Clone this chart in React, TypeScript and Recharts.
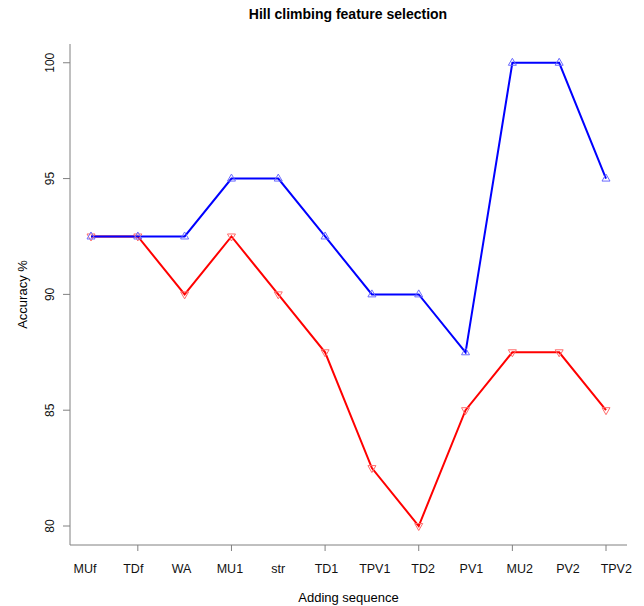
import React from 'react';
import { LineChart, Line, XAxis, YAxis } from 'recharts';

const categories = ['MUf', 'TDf', 'WA', 'MU1', 'str', 'TD1', 'TPV1', 'TD2', 'PV1', 'MU2', 'PV2', 'TPV2'];
const blueSeries = [92.5, 92.5, 92.5, 95, 95, 92.5, 90, 90, 87.5, 100, 100, 95];
const redSeries = [92.5, 92.5, 90, 92.5, 90, 87.5, 82.5, 80, 85, 87.5, 87.5, 85];
const yTicks = [80, 85, 90, 95, 100];

const data = categories.map((c, i) => ({ name: c, blue: blueSeries[i], red: redSeries[i] }));

const FONT = '"Liberation Sans", Arial, sans-serif';
const AXIS = '#808080';

const UpTri = (props: any) => {
  const { cx, cy } = props;
  if (cx == null || cy == null) return null;
  return <path d={`M${cx},${cy - 4.5} L${cx - 4},${cy + 2.5} L${cx + 4},${cy + 2.5} Z`} fill="none" stroke="#6a6aff" strokeWidth={1} />;
};
const DownTri = (props: any) => {
  const { cx, cy } = props;
  if (cx == null || cy == null) return null;
  return <path d={`M${cx},${cy + 4.5} L${cx - 4},${cy - 2.5} L${cx + 4},${cy - 2.5} Z`} fill="none" stroke="#ff6a6a" strokeWidth={1} />;
};

const XTick = (props: any) => {
  const { x, y, payload, index } = props;
  const first = 91;
  const step = 46.82;
  const lstep = 48.3;
  const lx = 85 + ((x - first) / step) * lstep;
  return (
    <g>
      {index % 2 === 1 && <line x1={x} x2={x} y1={y - 8} y2={y - 2} stroke={AXIS} strokeWidth={1} />}
      <text x={lx} y={y + 16} textAnchor="middle" dominantBaseline="central" fontSize={12.5} fontFamily={FONT} fill="#111">
        {payload.value}
      </text>
    </g>
  );
};

const YTick = (props: any) => {
  const { x, y, payload } = props;
  return (
    <text x={x - 11} y={y} textAnchor="middle" dominantBaseline="central" fontSize={12} fontFamily={FONT} fill="#111" transform={`rotate(-90, ${x - 11}, ${y})`}>
      {payload.value}
    </text>
  );
};

export default function App() {
  return (
    <div style={{ position: 'absolute', left: 0, top: 0, width: 644, height: 606, background: '#fff' }}>
      <div style={{ position: 'absolute', left: 0, top: 6, width: 696, textAlign: 'center', fontFamily: FONT, fontWeight: 'bold', fontSize: 14, color: '#000' }}>
        Hill climbing feature selection
      </div>
      <LineChart width={644} height={606} data={data} margin={{ top: 44, right: 17, left: 0, bottom: 0 }}>
        <XAxis
          dataKey="name"
          xAxisId="b"
          padding={{ left: 21, right: 21 }}
          height={61}
          tickLine={false}
          tickSize={6}
          tickMargin={2}
          interval={0}
          tick={<XTick />}
          axisLine={{ stroke: AXIS }}
          label={{ value: 'Adding sequence', position: 'insideBottom', offset: 4, style: { fontSize: 13, fontFamily: FONT, fill: '#000' } }}
        />
        <XAxis dataKey="name" xAxisId="t" orientation="top" height={0} tick={false} tickLine={false} axisLine={{ stroke: AXIS }} padding={{ left: 21, right: 21 }} />
        <YAxis
          yAxisId="l"
          width={70}
          domain={[79.18, 100.81]}
          allowDataOverflow
          ticks={yTicks}
          tickSize={7}
          tickMargin={2}
          tickLine={{ stroke: AXIS }}
          axisLine={{ stroke: AXIS }}
          tick={<YTick />}
          label={{ value: 'Accuracy %', angle: -90, position: 'insideLeft', offset: 22, style: { fontSize: 13, fontFamily: FONT, fill: '#000', textAnchor: 'middle' } }}
        />
        <YAxis yAxisId="r" orientation="right" width={0} domain={[79.18, 100.81]} allowDataOverflow tick={false} tickLine={false} axisLine={{ stroke: AXIS }} />
        <Line xAxisId="b" yAxisId="l" type="linear" dataKey="red" stroke="#ff0000" strokeWidth={2} dot={<DownTri />} isAnimationActive={false} />
        <Line xAxisId="b" yAxisId="l" type="linear" dataKey="blue" stroke="#0000ff" strokeWidth={2} dot={<UpTri />} isAnimationActive={false} />
      </LineChart>
    </div>
  );
}
